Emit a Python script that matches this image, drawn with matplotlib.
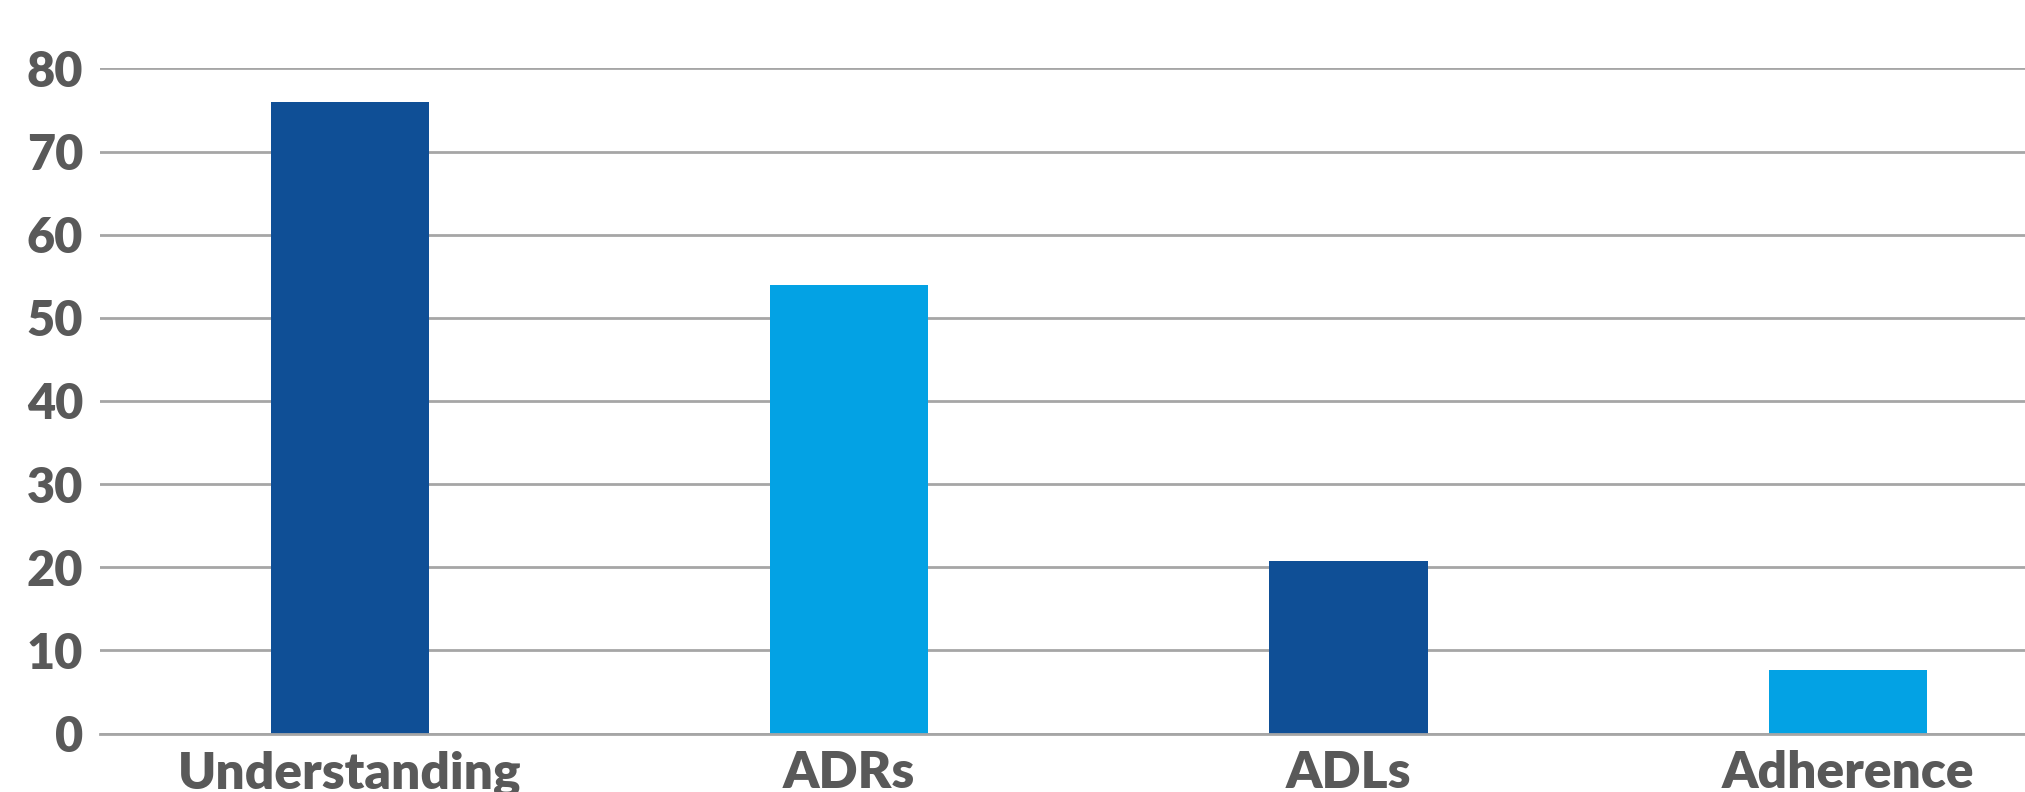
import matplotlib
matplotlib.use('Agg')
import matplotlib.pyplot as plt

# Categories and their scores
categorias = ['Understanding', 'ADRs', 'ADLs', 'Adherence']
valores = [76.0, 54.0, 20.7, 7.6]
colores = ['#0F4F96', '#03A2E4', '#0F4F96', '#03A2E4']
ticks_y = [0, 10, 20, 30, 40, 50, 60, 70, 80]

plt.rcParams['font.family'] = ['Lato', 'DejaVu Sans']

fig = plt.figure(figsize=(20.25, 7.92), dpi=100)
ax = fig.add_axes([0.0494, 0.0737, 0.9506, 0.84])

x = list(range(len(categorias)))
ax.bar(x, valores, width=0.317, color=colores, zorder=3)

ax.set_ylim(0, 80)
ax.set_xlim(-0.5, 3.355)
ax.set_yticks(ticks_y)
ax.set_xticks(x)
ax.set_xticklabels(categorias)

ax.grid(axis='y', color='#A6A6A6', linewidth=2, zorder=0)
for lado in ['top', 'right', 'left']:
    ax.spines[lado].set_visible(False)
ax.spines['bottom'].set_color('#A6A6A6')
ax.spines['bottom'].set_linewidth(2)
ax.spines['bottom'].set_zorder(4)

ax.tick_params(axis='both', length=0, labelcolor='#595959')
ax.tick_params(axis='y', pad=12, labelsize=35)
ax.tick_params(axis='x', pad=12, labelsize=37)
for etiqueta in ax.get_xticklabels() + ax.get_yticklabels():
    etiqueta.set_fontweight('heavy')

fig.savefig('out.png', dpi=100)
